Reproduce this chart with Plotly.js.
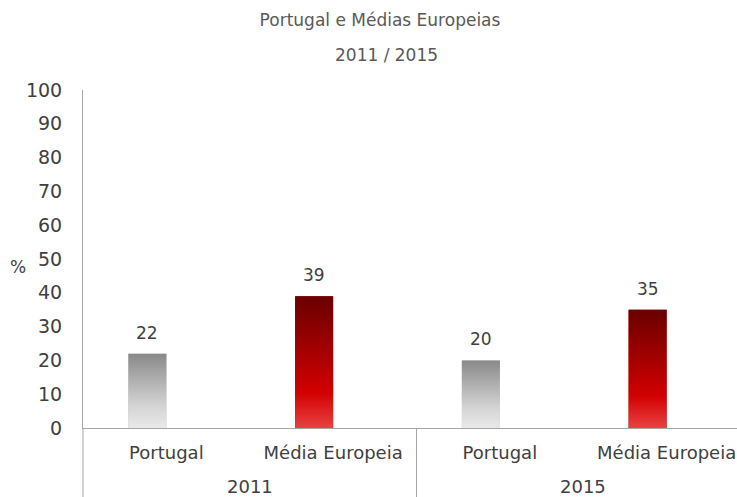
<!DOCTYPE html>
<html><head><meta charset="utf-8">
<script src="https://cdn.plot.ly/plotly-3.0.1.min.js"></script>
<style>html,body{margin:0;padding:0;overflow:hidden;background:#fff}</style>
</head><body><div id="chart"></div>
<script>
// ---- data ----
const years = ["2011", "2011", "2015", "2015"];
const groups = ["Portugal", "Média Europeia", "Portugal", "Média Europeia"];
const values = [22, 39, 20, 35];
const yTicks = [0, 10, 20, 30, 40, 50, 60, 70, 80, 90, 100];
const titleLine1 = "Portugal e Médias Europeias";
const titleLine2 = "2011 / 2015";
const yLabel = "%";

// ---- styles ----
const FONT = "DejaVu Sans, sans-serif";
const AXIS_COLOR = "#a6a6a6";
const TEXT_COLOR = "#404040";
const BAR_W = 0.228;
const solid = ["#bdbdbd", "#b00000", "#bdbdbd", "#b00000"];
const gradGray = [[0, "#e9e9e9"], [0.3, "#d4d4d4"], [1, "#898989"]];
const gradRed = [[0, "#e84242"], [0.27, "#d20000"], [1, "#6a0000"]];
const grads = [gradGray, gradRed, gradGray, gradRed];

const idx = values.map((_, i) => i);
const N = values.length;

const traces = [{
  type: "bar",
  x: idx,
  y: values,
  width: BAR_W,
  offset: -BAR_W,
  marker: {color: solid, line: {width: 0}},
  hoverinfo: "skip",
  showlegend: false
}];

values.forEach((v, i) => {
  const x0 = i - BAR_W, x1 = i;
  traces.push({
    type: "scatter", mode: "lines",
    x: [x0, x0, x1, x1, x0],
    y: [0, v, v, 0, 0],
    fill: "toself",
    fillgradient: {type: "vertical", colorscale: grads[i]},
    line: {width: 0, color: "rgba(0,0,0,0)"},
    hoverinfo: "skip", showlegend: false
  });
});

const W = 760, H = 510, ML = 83, MR = 10, MT = 90, MB = 82;
const PW = W - ML - MR, PH = H - MT - MB;

// year groups: centers and boundaries from the data
const yearGroups = [];
years.forEach((y, i) => {
  let g = yearGroups.find(o => o.year === y);
  if (!g) { g = {year: y, first: i, last: i}; yearGroups.push(g); }
  g.last = i;
});

const annotations = [];
// value labels
values.forEach((v, i) => annotations.push({
  text: String(v), xref: "x", yref: "y", x: i - BAR_W / 2, y: v,
  xanchor: "center", yanchor: "middle", yshift: 21, showarrow: false,
  font: {family: FONT, size: 17, color: TEXT_COLOR}
}));
// year labels
yearGroups.forEach(g => annotations.push({
  text: g.year, xref: "x", yref: "paper", x: (g.first + g.last) / 2,
  y: -(486 - (MT + PH)) / PH, xanchor: "center", yanchor: "middle",
  showarrow: false, font: {family: FONT, size: 18, color: TEXT_COLOR}
}));
annotations.push(
  {text: titleLine2, xref: "paper", yref: "paper",
   x: (386 - ML) / PW, y: (MT + PH - 55) / PH, xanchor: "center", yanchor: "middle",
   showarrow: false, font: {family: FONT, size: 17, color: "#595959"}},
  {text: yLabel, xref: "paper", yref: "paper",
   x: (18 - ML) / PW, y: (MT + PH - 267) / PH, xanchor: "center", yanchor: "middle",
   showarrow: false, font: {family: FONT, size: 17, color: TEXT_COLOR}}
);

// group dividers below the axis
const bounds = [yearGroups[0].first - 0.5].concat(yearGroups.map(g => g.last + 0.5));
const shapes = bounds.map(b => ({
  type: "line", xref: "paper", yref: "paper",
  x0: (b + 0.5) / N, x1: (b + 0.5) / N, y0: 0, y1: -(H - MT - PH + 5) / PH,
  line: {color: AXIS_COLOR, width: 1}
}));

const layout = {
  width: W, height: H,
  margin: {l: ML, r: MR, t: MT, b: MB, pad: 0},
  paper_bgcolor: "#fff", plot_bgcolor: "#fff",
  font: {family: FONT, color: TEXT_COLOR},
  title: {text: titleLine1, x: 0.5, xref: "container", xanchor: "center",
          y: 1 - 20 / H, yref: "container", yanchor: "middle",
          font: {family: FONT, size: 17, color: "#595959"}},
  xaxis: {
    range: [-0.5, N - 0.5], tickvals: idx, ticktext: groups,
    showline: true, linecolor: AXIS_COLOR, linewidth: 1,
    ticks: "", showgrid: false, zeroline: false,
    ticklabelstandoff: 8,
    tickfont: {family: FONT, size: 18, color: TEXT_COLOR}
  },
  yaxis: {
    range: [0, 100], tickvals: yTicks, ticktext: yTicks.map(String),
    showline: true, linecolor: AXIS_COLOR, linewidth: 1,
    ticks: "", showgrid: false, zeroline: false,
    ticklabelstandoff: 16,
    tickfont: {family: FONT, size: 19, color: TEXT_COLOR}
  },
  shapes: shapes,
  annotations: annotations,
  showlegend: false
};

Plotly.newPlot("chart", traces, layout, {displayModeBar: false, staticPlot: true});
</script>
</body></html>
